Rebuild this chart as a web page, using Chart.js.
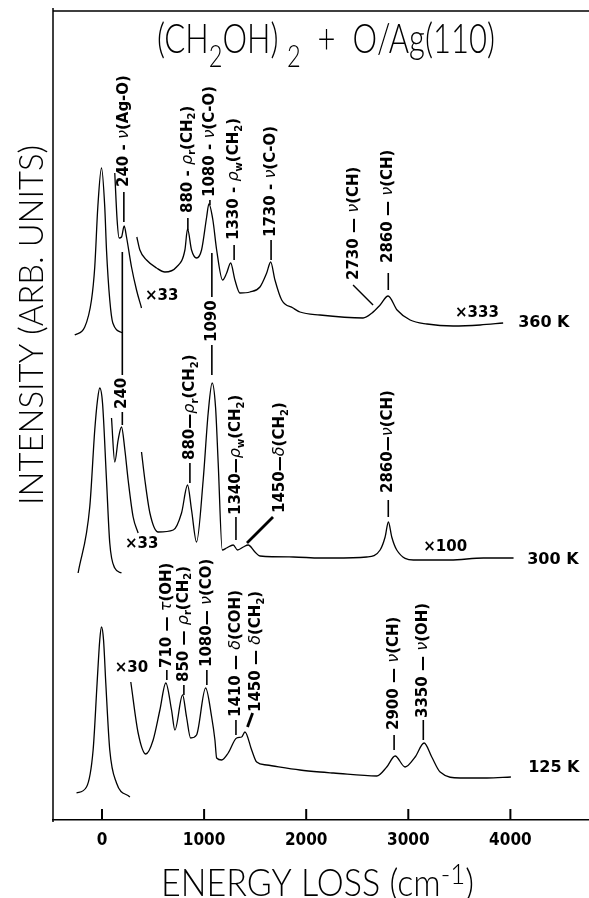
<!DOCTYPE html>
<html>
<head>
<meta charset="utf-8">
<title>(CH2OH)2 + O/Ag(110)</title>
<script src="https://cdn.jsdelivr.net/npm/chart.js@4.4.1/dist/chart.umd.min.js"></script>
<style>
  html, body { margin: 0; padding: 0; background: #fff; }
  #wrap { width: 589px; height: 898px; }
</style>
</head>
<body>
<div id="wrap"><canvas id="chart" width="589" height="898"></canvas></div>
<script>
// tick labels of the energy loss axis (cm-1)
const xTicks = [0, 1000, 2000, 3000, 4000];

// 360 K : elastic peak, x33 part, x33/x333 part (intensity in arb. units, stacked)
const elastic360X = [-267, -169, -103, -71, -41, -5, 27, 44, 76, 106, 204];
const elastic360Y = [485, 493, 520, 553, 613, 652, 613, 570, 520, 497, 487];
const loss360aX = [125, 148, 168, 191, 217, 240, 289, 338, 387];
const loss360aY = [647, 600, 582, 583, 594, 583, 553, 530, 512];
const loss360bX = [341, 371, 436, 534, 616, 730, 812, 838, 877, 926, 975, 1025, 1047, 1086, 1123, 1181, 1221, 1260, 1302, 1351,
  1449, 1547, 1613, 1652, 1694, 1760, 1871, 1939, 2135, 2557, 2645, 2724, 2802, 2890, 3018, 3184, 3439, 3704, 3929];
const loss360bY = [583, 570, 560, 552, 548, 553, 570, 591, 570, 562, 570, 603, 616, 600, 570, 540, 547, 557, 540, 527,
  528, 533, 547, 558, 540, 520, 512, 508, 505, 502, 507, 515, 524, 510, 500, 496, 494, 495, 497];

// 300 K
const elastic300X = [-234, -120, -71, -44, -22, 5, 44, 76, 125, 191];
const elastic300Y = [247, 313, 390, 420, 432, 417, 340, 277, 252, 247];
const loss300aX = [93, 125, 158, 191, 224, 256, 305, 354];
const loss300aY = [402, 358, 380, 393, 370, 340, 303, 287];
const loss300bX = [387, 420, 469, 550, 698, 779, 838, 877, 926, 991, 1040, 1079, 1112, 1138, 1178, 1220, 1285, 1328, 1384, 1432,
  1498, 1547, 1874, 2135, 2266, 2593, 2724, 2773, 2805, 2838, 2887, 3050, 3410, 3736, 4031];
const loss300bY = [368, 340, 307, 288, 290, 307, 335, 310, 278, 340, 407, 437, 413, 357, 270, 272, 275, 270, 273, 275,
  268, 264, 263, 262, 262, 263, 270, 283, 298, 283, 270, 260, 260, 262, 262];

// 125 K
const elastic125X = [-250, -152, -87, -48, -22, -5, 15, 37, 76, 142, 273];
const elastic125Y = [27, 33, 70, 137, 180, 193, 180, 137, 70, 37, 23];
const loss125X = [282, 354, 429, 501, 567, 625, 681, 714, 789, 828, 868, 926, 1015, 1074, 1106, 1123, 1172, 1236, 1319, 1368,
  1400, 1466, 1515, 1613, 1939, 2135, 2266, 2691, 2789, 2871, 2969, 3067, 3155, 3230, 3312, 3508, 3770, 4005];
const loss125Y = [138, 87, 66, 80, 110, 137, 110, 90, 125, 103, 82, 85, 132, 103, 80, 62, 60, 67, 82, 83,
  88, 70, 58, 55, 50, 48, 47, 44, 53, 64, 53, 63, 77, 63, 48, 42, 42, 43];

// peak assignments ("_" = next char subscript)
// v: x of the marker line, line: marker [from, to], s: where text starts, up: line above text, lead: slanted leader
const notes = [
  { t: '240 - ν(Ag-O)', v: 214, line: [598, 628], s: 633 },
  { t: '880 - ρ_r(CH_2)', v: 841, line: [590, 602], s: 607 },
  { t: '1080 - ν(C-O)', v: 1057, line: [615, 620], s: 623 },
  { t: '1330 - ρ_w(CH_2)', v: 1294, line: [560, 575], s: 580 },
  { t: '1730 - ν(C-O)', v: 1656, line: [560, 580], s: 583 },
  { t: '2730 — ν(CH)', v: 2470, s: 540, lead: [2459, 535, 2655, 515] },
  { t: '2860 — ν(CH)', v: 2804, line: [530, 547], s: 557 },

  { t: '240', v: 199, line: [395, 408], s: 411, up: [445, 568] },
  { t: '880—ρ_r(CH_2)', v: 861, line: [337, 357], s: 360 },
  { t: '1090', v: 1076, line: [445, 475], s: 478, up: [523, 567] },
  { t: '1340—ρ_w(CH_2)', v: 1312, line: [280, 303], s: 305 },
  { t: '1450—δ(CH_2)', v: 1745, s: 307, lead: [1675, 303, 1420, 277], thick: true },
  { t: '2860—ν(CH)', v: 2804, line: [303, 320], s: 327 },

  { t: '710 — τ(OH)', v: 635, line: [140, 150], s: 152 },
  { t: '850 — ρ_r(CH_2)', v: 802, line: [125, 135], s: 138 },
  { t: '1080— ν(CO)', v: 1027, line: [135, 150], s: 153 },
  { t: '1410 — δ(COH)', v: 1312, line: [85, 100], s: 103 },
  { t: '1450 — δ(CH_2)', v: 1508, s: 108, lead: [1475, 107, 1425, 93], thick: true },
  { t: '2900 — ν(CH)', v: 2861, line: [70, 85], s: 90 },
  { t: '3350 — ν(OH)', v: 3147, line: [80, 100], s: 102 }
];

// scale factors and temperatures
const tags = [
  { t: '×33', v: 420, y: 524 }, { t: '×333', v: 3458, y: 507 }, { t: '360 K', v: 4076, y: 497 },
  { t: '×33', v: 224, y: 276 }, { t: '×100', v: 3146, y: 273 }, { t: '300 K', v: 4165, y: 260 },
  { t: '×30', v: 125, y: 152 }, { t: '125 K', v: 4174, y: 52 }
];

const pts = (xs, ys) => xs.map((x, i) => ({ x: x, y: ys[i] }));
const trace = (name, xs, ys) => ({
  label: name, data: pts(xs, ys),
  borderColor: '#000', borderWidth: 1.3, pointRadius: 0,
  cubicInterpolationMode: 'monotone', fill: false
});

const GREEK = 'νρδτ';
function noteFont(kind) {
  if (kind === 'g') return 'italic 16px "DejaVu Sans"';
  if (kind === 's') return 'bold 10px "DejaVu Sans"';
  return 'bold 15px "DejaVu Sans"';
}
function noteText(ctx, str) {
  let cx = 0;
  for (let i = 0; i < str.length; i++) {
    let c = str[i], kind = 'n';
    if (c === '_') { c = str[++i]; kind = 's'; }
    else if (GREEK.includes(c)) kind = 'g';
    ctx.font = noteFont(kind);
    ctx.fillText(c, cx, kind === 's' ? 5 : 0);
    cx += ctx.measureText(c).width;
  }
}

// thin "plotter" lettering, squeezed to a given length
function plotterText(ctx, parts, len, size) {
  const fontOf = k => '300 ' + (k ? Math.round(size * 0.75) : size) + 'px Lato, "DejaVu Sans"';
  let w = 0;
  parts.forEach(([t, k]) => { ctx.font = fontOf(k); w += ctx.measureText(t).width; });
  ctx.save();
  ctx.scale(len / w, 1);
  let cx = 0;
  parts.forEach(([t, k]) => {
    ctx.font = fontOf(k);
    ctx.fillText(t, cx, k === 'sub' ? size * 0.33 : k === 'sup' ? -size * 0.33 : 0);
    cx += ctx.measureText(t).width;
  });
  ctx.restore();
}

const decor = {
  id: 'decor',
  afterDraw(chart) {
    const { ctx, chartArea: a, scales: { x, y } } = chart;
    ctx.save();
    ctx.strokeStyle = '#000';
    ctx.fillStyle = '#000';
    ctx.lineCap = 'butt';

    // left and top frame
    ctx.lineWidth = 1.5;
    ctx.beginPath();
    ctx.moveTo(a.left, a.bottom + 2);
    ctx.lineTo(a.left, a.top - 3);
    ctx.moveTo(a.left, a.top);
    ctx.lineTo(chart.width, a.top);
    ctx.stroke();

    // inward tick marks
    ctx.lineWidth = 2;
    x.ticks.forEach(tk => {
      const px = x.getPixelForValue(tk.value);
      ctx.beginPath();
      ctx.moveTo(px, a.bottom);
      ctx.lineTo(px, a.bottom - 11);
      ctx.stroke();
    });

    // assignments
    notes.forEach(n => {
      const px = x.getPixelForValue(n.v);
      ctx.lineWidth = 1.6;
      ctx.beginPath();
      if (n.line) {
        ctx.moveTo(px, y.getPixelForValue(n.line[0]));
        ctx.lineTo(px, y.getPixelForValue(n.line[1]));
      }
      if (n.up) {
        ctx.moveTo(px, y.getPixelForValue(n.up[0]));
        ctx.lineTo(px, y.getPixelForValue(n.up[1]));
      }
      ctx.stroke();
      if (n.lead) {
        ctx.lineWidth = n.thick ? 2.8 : 1.4;
        ctx.beginPath();
        ctx.moveTo(x.getPixelForValue(n.lead[0]), y.getPixelForValue(n.lead[1]));
        ctx.lineTo(x.getPixelForValue(n.lead[2]), y.getPixelForValue(n.lead[3]));
        ctx.stroke();
      }
      ctx.save();
      ctx.translate(px, y.getPixelForValue(n.s));
      ctx.rotate(-Math.PI / 2);
      ctx.textAlign = 'left';
      ctx.textBaseline = 'middle';
      noteText(ctx, n.t);
      ctx.restore();
    });

    // x33, 360 K ...
    ctx.textAlign = 'left';
    ctx.textBaseline = 'middle';
    tags.forEach(g => {
      ctx.font = g.t.startsWith('×') ? 'bold 15px "DejaVu Sans"' : 'bold 16px "DejaVu Sans"';
      ctx.fillText(g.t, x.getPixelForValue(g.v), y.getPixelForValue(g.y));
    });

    // titles
    ctx.textBaseline = 'alphabetic';
    ctx.save();
    ctx.translate(157, 53);
    plotterText(ctx, [['(CH', ''], ['2', 'sub'], ['OH) ', ''], ['2', 'sub'], ['  +  O/Ag(110)', '']], 338, 42);
    ctx.restore();

    ctx.save();
    ctx.translate(161, 896);
    plotterText(ctx, [['ENERGY LOSS (cm', ''], ['-1', 'sup'], [')', '']], 313, 37);
    ctx.restore();

    ctx.save();
    ctx.translate(43, 505);
    ctx.rotate(-Math.PI / 2);
    plotterText(ctx, [['INTENSITY (ARB. UNITS)', '']], 360, 34);
    ctx.restore();

    ctx.restore();
  }
};

new Chart(document.getElementById('chart').getContext('2d'), {
  type: 'line',
  data: {
    datasets: [
      trace('360 K elastic', elastic360X, elastic360Y),
      trace('360 K x33', loss360aX, loss360aY),
      trace('360 K x333', loss360bX, loss360bY),
      trace('300 K elastic', elastic300X, elastic300Y),
      trace('300 K x33', loss300aX, loss300aY),
      trace('300 K x100', loss300bX, loss300bY),
      trace('125 K elastic', elastic125X, elastic125Y),
      trace('125 K x30', loss125X, loss125Y)
    ]
  },
  options: {
    responsive: false,
    animation: false,
    devicePixelRatio: 1,
    layout: { padding: { left: 53, top: 11, right: 0, bottom: 0 } },
    plugins: { legend: { display: false }, tooltip: { enabled: false }, title: { display: false } },
    scales: {
      x: {
        type: 'linear',
        min: -480,
        max: 4770,
        afterBuildTicks: s => { s.ticks = xTicks.map(v => ({ value: v })); },
        afterFit: s => { s.height = 78; },
        grid: { display: false, drawTicks: false },
        border: { display: true, color: '#000', width: 1.5 },
        ticks: {
          color: '#000',
          padding: 10,
          maxRotation: 0,
          callback: v => String(v),
          font: { family: '"DejaVu Sans Condensed", "DejaVu Sans"', weight: 'bold', size: 17 }
        }
      },
      y: { display: false, min: 0, max: 809 }
    }
  },
  plugins: [decor]
});
</script>
</body>
</html>
